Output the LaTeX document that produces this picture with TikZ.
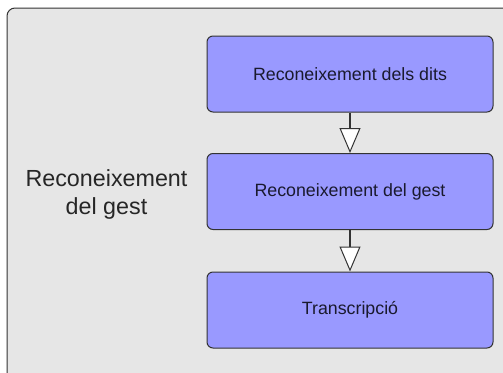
\documentclass[tikz,border=0pt]{standalone}
\usepackage{fontspec}
\setmainfont{Liberation Sans}
\usetikzlibrary{arrows.meta}
\definecolor{panelgray}{HTML}{E6E6E6}
\definecolor{stepblue}{HTML}{9999FF}
\definecolor{edgegray}{HTML}{333333}
\definecolor{inktext}{HTML}{1A1A2E}
\tikzset{
  stepbox/.style={draw=edgegray, line width=1pt, fill=stepblue, rounded corners=6pt,
    minimum width=286pt, minimum height=76pt, inner sep=0pt,
    font=\fontsize{17.8}{21}\selectfont, text=inktext},
  flow/.style={draw=edgegray, line width=1.2pt,
    -{Triangle[width=21pt,length=25pt,fill=white,line width=1pt]}},
}
\begin{document}
\begin{tikzpicture}[x=1pt,y=-1pt]
\useasboundingbox (0,0) rectangle (503,372);
% outer panel
\draw[draw=edgegray, line width=1pt, fill=panelgray, rounded corners=8pt] (7,8) rectangle (515,385);
% process steps
\node[stepbox] (dits) at (350,74) {Reconeixement dels dits};
\node[stepbox] (gest) at (350,191.5) {Reconeixement del gest};
\node[stepbox] (trans) at (350,310) {Transcripció};
% panel title
\node[font=\fontsize{23.3}{28}\selectfont, align=center, text=black!85] (title) at (106.5,194) {Reconeixement\\del gest};
% connectors
\draw[flow] (dits.south) -- (gest.north);
\draw[flow] (gest.south) -- (trans.north);
\end{tikzpicture}
\end{document}
